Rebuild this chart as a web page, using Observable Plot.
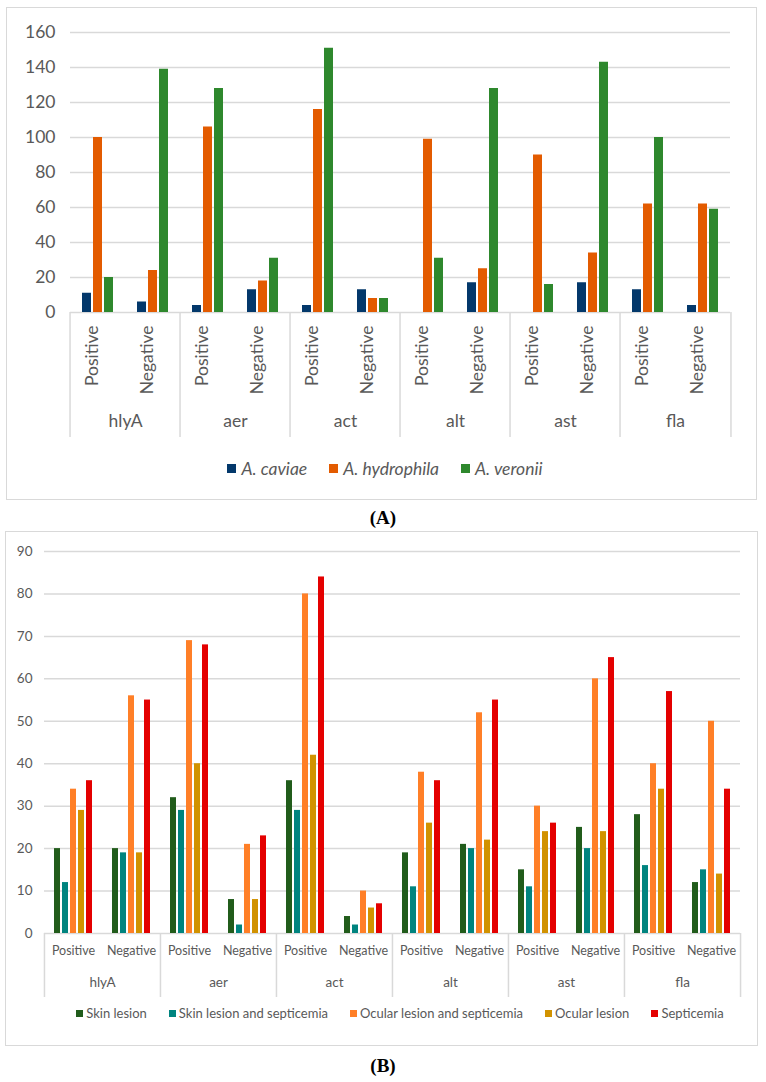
<!DOCTYPE html>
<html><head><meta charset="utf-8">
<script src="https://cdn.jsdelivr.net/npm/d3@7"></script>
<script src="https://cdn.jsdelivr.net/npm/@observablehq/plot@0.6"></script>
<style>
body{margin:0;background:#fff;font-family:Lato,sans-serif;}
#page{position:relative;width:766px;height:1082px;overflow:hidden;}
.frame{position:absolute;box-sizing:border-box;border:1.5px solid #d9d9d9;}
.abs{position:absolute;}
.legend{position:absolute;display:flex;justify-content:center;align-items:center;color:#595959;white-space:nowrap;}
.item{display:flex;align-items:center;}
.sw{display:inline-block;flex:none;}
.panel{position:absolute;left:0;width:766px;text-align:center;font-family:"Liberation Serif",serif;font-weight:bold;font-size:19px;color:#000;line-height:22px;}
</style></head><body><div id="page">
<div class="frame" style="left:6px;top:7px;width:751px;height:493px"></div>
<div class="frame" style="left:5px;top:531px;width:753px;height:515px"></div>
<div id="chartA" class="abs" style="left:6px;top:7px"></div>
<div id="legendA" class="legend" style="left:10px;width:750px;top:457px;height:22px;font-size:17.5px;font-style:italic"></div>
<div class="panel" style="top:507px">(A)</div>
<div id="chartB" class="abs" style="left:5px;top:531px"></div>
<div id="legendB" class="legend" style="left:40px;width:720px;top:1004px;height:18px;font-size:13px"></div>
<div class="panel" style="top:1055px">(B)</div>
</div>
<script>
// ---- shared categories ----
const genes = ["hlyA", "aer", "act", "alt", "ast", "fla"];
const signs = ["Positive", "Negative"];

// ---- chart A: species ----
const speciesNames = ["A. caviae", "A. hydrophila", "A. veronii"];
const speciesColors = ["#03386b", "#e35b00", "#2e882d"];
// order: hlyA Pos, hlyA Neg, aer Pos, aer Neg, act Pos, act Neg, alt Pos, alt Neg, ast Pos, ast Neg, fla Pos, fla Neg
const caviae     = [11, 6, 4, 13, 4, 13, 0, 17, 0, 17, 13, 4];
const hydrophila = [100, 24, 106, 18, 116, 8, 99, 25, 90, 34, 62, 62];
const veronii    = [20, 139, 128, 31, 151, 8, 31, 128, 16, 143, 100, 59];
const yTicksA = [0, 20, 40, 60, 80, 100, 120, 140, 160];

// ---- chart B: lesion types ----
const lesionNames = ["Skin lesion", "Skin lesion and septicemia", "Ocular lesion and septicemia", "Ocular lesion", "Septicemia"];
const lesionColors = ["#215c1b", "#00847f", "#ff7f27", "#d19200", "#e40000"];
const skinLesion       = [20, 20, 32, 8, 36, 4, 19, 21, 15, 25, 28, 12];
const skinSepticemia   = [12, 19, 29, 2, 29, 2, 11, 20, 11, 20, 16, 15];
const ocularSepticemia = [34, 56, 69, 21, 80, 10, 38, 52, 30, 60, 40, 50];
const ocularLesion     = [29, 19, 40, 8, 42, 6, 26, 22, 24, 24, 34, 14];
const septicemia       = [36, 55, 68, 23, 84, 7, 36, 55, 26, 65, 57, 34];
const yTicksB = [0, 10, 20, 30, 40, 50, 60, 70, 80, 90];

const keys = genes.flatMap(g => signs.map(s => g + "|" + s));
function rows(names, series) {
  return keys.flatMap((k, i) => series.map((arr, j) => ({key: k, series: names[j], value: arr[i]})));
}
const rowsA = rows(speciesNames, [caviae, hydrophila, veronii]);
const rowsB = rows(lesionNames, [skinLesion, skinSepticemia, ocularSepticemia, ocularLesion, septicemia]);

function chart(cfg) {
  const plotW = cfg.width - cfg.marginLeft - cfg.marginRight;
  const plotH = cfg.height - cfg.marginTop - cfg.marginBottom;
  const step = plotW / keys.length;
  const positives = genes.map(g => g + "|Positive");
  const grid = "#d9d9d9";
  return Plot.plot({
    width: cfg.width, height: cfg.height,
    marginLeft: cfg.marginLeft, marginRight: cfg.marginRight,
    marginTop: cfg.marginTop, marginBottom: cfg.marginBottom,
    style: {fontFamily: "Lato, sans-serif", fontSize: cfg.fontSize + "px", color: "#595959", background: "transparent", overflow: "visible"},
    fx: {domain: keys, padding: 0, axis: null},
    x: {domain: cfg.names, paddingInner: 0.2, paddingOuter: cfg.outer, axis: null},
    y: {domain: cfg.yDomain, label: null},
    color: {domain: cfg.names, range: cfg.colors},
    marks: [
      Plot.gridY(cfg.yTicks, {stroke: grid, strokeOpacity: 1, strokeWidth: 1.5}),
      Plot.barY(cfg.data, {fx: "key", x: "series", y: "value", fill: "series"}),
      Plot.axisY(cfg.yTicks, {tickSize: 0, tickPadding: cfg.tickPadding, fontSize: cfg.fontSize, label: null}),
      cfg.rotate
        ? Plot.text(keys, {fx: d => d, text: d => d.split("|")[1], frameAnchor: "bottom", rotate: -90, textAnchor: "end", dy: cfg.subDy, fontSize: cfg.subSize})
        : Plot.text(keys, {fx: d => d, text: d => d.split("|")[1], frameAnchor: "bottom", dy: cfg.subDy, fontSize: cfg.subSize}),
      Plot.text(genes, {fx: d => d + "|Positive", text: d => d, frameAnchor: "bottom-right", textAnchor: "middle", dy: cfg.geneDy, fontSize: cfg.fontSize}),
      Plot.ruleX(positives, {fx: d => d, x: null, dx: -step / 2, insetTop: plotH, insetBottom: -cfg.marginBottom, stroke: grid, strokeWidth: 1.5}),
      Plot.ruleX(positives.slice(-1).map(d => d.replace("Positive", "Negative")), {fx: d => d, x: null, dx: step / 2, insetTop: plotH, insetBottom: -cfg.marginBottom, stroke: grid, strokeWidth: 1.5})
    ]
  });
}

document.getElementById("chartA").append(chart({
  width: 751, height: 430, marginLeft: 58, marginRight: 22, marginTop: 25, marginBottom: 125,
  names: speciesNames, colors: speciesColors, data: rowsA, yDomain: [0, 160], yTicks: yTicksA,
  outer: 0.93, fontSize: 17.5, subSize: 17.5, tickPadding: 15, rotate: true, subDy: 13, geneDy: 114
}));
document.getElementById("chartB").append(chart({
  width: 753, height: 466, marginLeft: 38, marginRight: 18, marginTop: 20, marginBottom: 64,
  names: lesionNames, colors: lesionColors, data: rowsB, yDomain: [0, 90], yTicks: yTicksB,
  outer: 0.9, fontSize: 13.5, subSize: 12.5, tickPadding: 12, rotate: false, subDy: 21, geneDy: 53
}));

function legend(id, names, colors, sw, gap) {
  const el = document.getElementById(id);
  names.forEach((n, i) => {
    const it = document.createElement("span");
    it.className = "item";
    if (i > 0) it.style.marginLeft = "22px";
    const s = document.createElement("span");
    s.className = "sw";
    s.style.width = sw + "px"; s.style.height = sw + "px"; s.style.background = colors[i]; s.style.marginRight = gap + "px";
    it.append(s, document.createTextNode(n));
    el.append(it);
  });
}
legend("legendA", speciesNames, speciesColors, 9, 5);
legend("legendB", lesionNames, lesionColors, 7, 3);
</script>
</body></html>
